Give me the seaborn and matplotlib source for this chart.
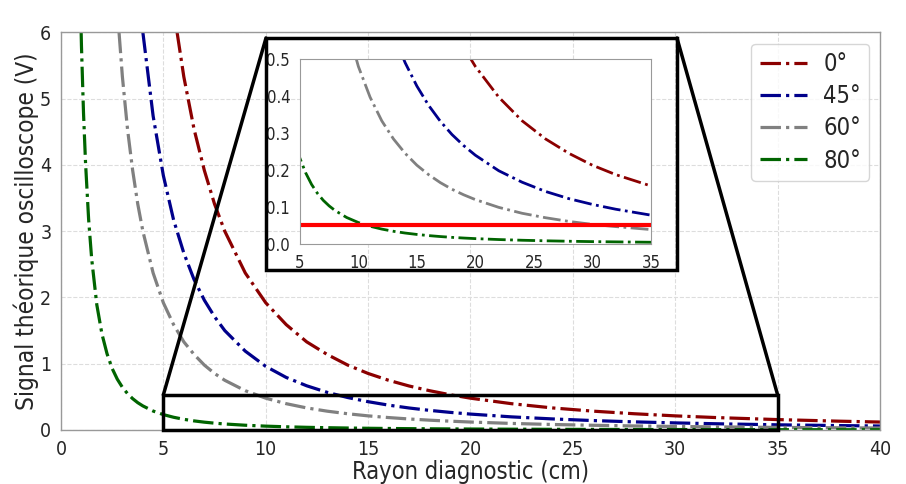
# Signal théorique vs rayon diagnostic, with zoomed inset

import numpy as np
import seaborn as sns
import matplotlib
matplotlib.use("Agg")
import matplotlib.pyplot as plt
from matplotlib.patches import Rectangle, ConnectionPatch

# values
rayon = [0.7, 0.8, 0.9, 1.0, 1.1, 1.2, 1.35, 1.5, 1.75, 2, 2.25, 2.5, 2.75, 3, 3.25, 3.5, 3.75, 4,
         4.5, 5, 5.5, 6, 6.5, 7, 7.5, 8, 9, 10, 11, 12, 13, 14, 15, 16, 17, 18, 19, 20,
         22, 24, 26, 28, 30, 32, 35, 38, 40]
sig_0 = [392, 300, 237, 192, 159, 133, 105, 85.3, 62.7, 48, 37.9, 30.7, 25.4, 21.3, 18.2, 15.7, 13.7, 12.0,
         9.48, 7.68, 6.35, 5.33, 4.54, 3.92, 3.41, 3.0, 2.37, 1.92, 1.59, 1.33, 1.14, 0.98, 0.853, 0.75, 0.664, 0.593, 0.532, 0.48,
         0.397, 0.333, 0.284, 0.245, 0.213, 0.1875, 0.157, 0.133, 0.12]
sig_45 = [196, 150, 119, 96, 79.3, 66.7, 52.7, 42.7, 31.3, 24, 19.0, 15.4, 12.7, 10.7, 9.09, 7.84, 6.83, 6.0,
          4.74, 3.84, 3.17, 2.67, 2.27, 1.96, 1.71, 1.5, 1.19, 0.96, 0.793, 0.667, 0.568, 0.49, 0.427, 0.375, 0.332, 0.296, 0.266, 0.24,
          0.198, 0.167, 0.142, 0.1225, 0.107, 0.094, 0.078, 0.0665, 0.06]
sig_60 = [98, 75, 59.3, 48, 39.7, 33.3, 26.3, 21.3, 15.7, 12, 9.48, 7.68, 6.35, 5.33, 4.54, 3.92, 3.41, 3.0,
          2.37, 1.92, 1.59, 1.33, 1.14, 0.98, 0.853, 0.75, 0.593, 0.48, 0.397, 0.333, 0.284, 0.245, 0.213, 0.1875, 0.166, 0.148, 0.133, 0.12,
          0.099, 0.083, 0.071, 0.061, 0.053, 0.047, 0.039, 0.033, 0.03]
sig_80 = [11.8, 9.06, 7.16, 5.8, 4.79, 4.03, 3.18, 2.58, 1.89, 1.45, 1.15, 0.928, 0.767, 0.644, 0.549, 0.473, 0.412, 0.363,
          0.286, 0.232, 0.192, 0.161, 0.137, 0.118, 0.103, 0.0906, 0.0716, 0.058, 0.0479, 0.0403, 0.0343, 0.0296, 0.0258, 0.0227, 0.0201, 0.0179, 0.0161, 0.0145,
          0.012, 0.0101, 0.0086, 0.0074, 0.0064, 0.0057, 0.0047, 0.004, 0.0036]
seuil = 0.05

labels = ["0°", "45°", "60°", "80°"]
colors = ["darkred", "darkblue", "grey", "darkgreen"]
series = [sig_0, sig_45, sig_60, sig_80]

sns.set_style("white")
plt.rcParams["font.family"] = ["DejaVu Sans"]
plt.rcParams["font.stretch"] = "condensed"

fig = plt.figure(figsize=(9.06, 4.84), dpi=100)
ax = fig.add_axes([0.0673, 0.1116, 0.904, 0.8214])

for s, lab, c in zip(series, labels, colors):
    sns.lineplot(x=rayon, y=s, ax=ax, color=c, linestyle="-.", linewidth=2.3,
                 label=lab, sort=False)

ax.set_xlim(0, 40)
ax.set_ylim(0, 6)
ax.set_xticks(range(0, 41, 5))
ax.set_yticks(range(0, 7))
ax.tick_params(labelsize=14)
ax.set_xlabel("Rayon diagnostic (cm)", fontsize=17, labelpad=1)
ax.set_ylabel("Signal théorique oscilloscope (V)", fontsize=17.5, labelpad=1)
ax.grid(True, linestyle="--", color="#dddddd", linewidth=0.8)
for sp in ax.spines.values():
    sp.set_color("#999999")
    sp.set_linewidth(1.0)
ax.legend(loc="upper right", fontsize=17, handlelength=2.0, borderpad=0.35,
          labelspacing=0.35, handletextpad=0.7, borderaxespad=0,
          bbox_to_anchor=(0.987, 0.972))

# zoom rectangle on the main plot
ax.add_patch(Rectangle((5, 0), 30, 0.53, fill=False, edgecolor="black",
                       linewidth=2.5, zorder=5, clip_on=False))

# inset
axins = fig.add_axes([0.331, 0.4959, 0.3874, 0.382])
for s, c in zip(series, colors):
    sns.lineplot(x=rayon, y=s, ax=axins, color=c, linestyle="-.", linewidth=2.0,
                 sort=False)
sns.lineplot(x=[5, 35], y=[seuil, seuil], ax=axins, color="red", linewidth=3)
axins.set_xlim(5, 35)
axins.set_ylim(0, 0.5)
axins.set_xticks(range(5, 36, 5))
axins.set_yticks(np.arange(0, 0.51, 0.1))
axins.tick_params(labelsize=12)
for sp in axins.spines.values():
    sp.set_color("#999999")

# thick frame around inset, and connector lines
x0, x1, yb, yt = 0.2936, 0.7472, 0.4421, 0.9215
fig.add_artist(Rectangle((x0, yb), x1 - x0, yt - yb, transform=fig.transFigure,
                         fill=False, edgecolor="black", linewidth=2.5, zorder=10))
for xd, xf in [(5, x0), (35, x1)]:
    con = ConnectionPatch(xyA=(xd, 0.53), coordsA="data", axesA=ax,
                          xyB=(xf, yt), coordsB="figure fraction",
                          color="black", linewidth=2.5, zorder=10)
    fig.add_artist(con)

fig.savefig("out.png", dpi=100)
